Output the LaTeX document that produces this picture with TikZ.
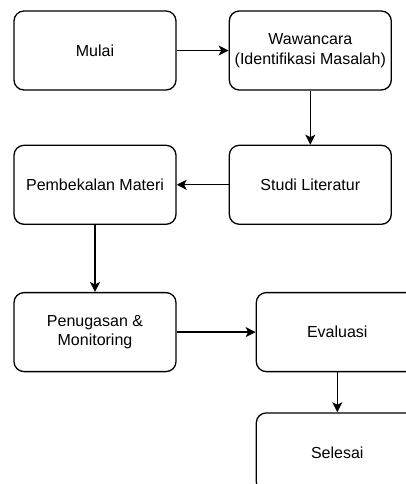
\documentclass[tikz,border=0pt]{standalone}
\usepackage{fontspec}
\setmainfont{Liberation Sans}
\usetikzlibrary{positioning, arrows.meta}

\begin{document}
\begin{tikzpicture}[-{Stealth[length=10pt,width=10pt,inset=2.5pt]}, x=1pt, y=1pt,
                line width=1.3pt,
                box/.style={draw, rectangle, rounded corners=10pt, minimum width=162pt,
                  minimum height=79pt, align=center, inner sep=2pt,
                  font=\fontsize{16}{19.5}\selectfont}]
        \useasboundingbox (0,0) rectangle (406,-484);
        \clip (0,0) rectangle (406,-484);
        \node [box] at (95,-50.5) (mulai) {Mulai};
        \node [box, right=52pt of mulai] (wawancara) {Wawancara\\(Identifikasi Masalah)};
        \node [box, below=54pt of wawancara] (studi) {Studi Literatur};
        \node [box, left=52pt of studi] (pembekalan) {Pembekalan Materi};
        \node [box, below=67pt of pembekalan] (penugasan) {Penugasan \&\\Monitoring};
        \node [box, right=79pt of penugasan] (evaluasi) {Evaluasi};
        \node [box, below=40pt of evaluasi] (selesai) {Selesai};

%% paths
        \path
                 (mulai) edge (wawancara)
                    (wawancara) edge (studi)
                    (studi) edge (pembekalan)
                    (pembekalan) edge (penugasan)
                    (penugasan) edge (evaluasi)
                    (evaluasi) edge (selesai)
                    ;
\end{tikzpicture}
\end{document}
